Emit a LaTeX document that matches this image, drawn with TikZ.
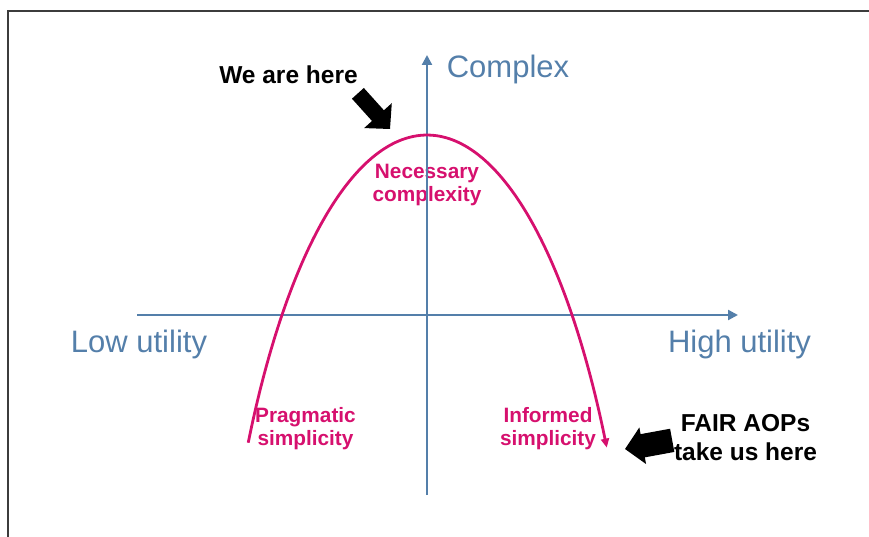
\documentclass[tikz,border=0pt]{standalone}
\usepackage{fontspec}
\setmainfont{Liberation Sans}
\usetikzlibrary{arrows.meta}
\definecolor{axisblue}{RGB}{84,127,170}
\definecolor{curvepink}{RGB}{214,16,110}
\definecolor{framegray}{RGB}{60,60,60}
\newcommand{\blockarrow}[4] {
    \fill[black,shift={(#1,#2)},rotate=#3]
        (0,0) -- (-18,18.6) -- (-18,#4) -- (-48,#4)
        -- (-48,-#4) -- (-18,-#4) -- (-18,-18.6) -- cycle;
}

\begin{document}
\begin{tikzpicture}[x=1pt,y=-1pt,
        axis/.style={draw=axisblue,line width=2.2pt,-{Triangle[length=10pt,width=10pt]}},
        axislabel/.style={text=axisblue,font=\fontsize{31}{36}\selectfont,inner sep=0pt},
        zone/.style={text=curvepink,font=\bfseries\fontsize{20.8}{23.5}\selectfont,align=center,inner sep=0pt},
        callout/.style={font=\bfseries\fontsize{24.5}{29}\selectfont,align=center,inner sep=0pt}]
    \useasboundingbox (0,0) rectangle (869,537);
    \draw[framegray,line width=1.8pt] (8,537) -- (8,11) -- (869,11);

    \node[axislabel] (complex) at (508,69) {Complex};
    \node[axislabel] (low) at (139,344) {Low utility};
    \node[axislabel] (high) at (739.5,344) {High utility};
    \node[zone] (necessary) at (427,185) {Necessary\\complexity};
    \node[zone] (pragmatic) at (305.5,428.5) {Pragmatic\\simplicity};
    \node[zone] (informed) at (548,428.5) {Informed\\simplicity};
    \node[callout] (here) at (288.5,75) {We are here};
    \node[callout] (fair) at (745.5,438) {FAIR AOPs\\take us here};

    \coordinate (xleft) at (137,315);
    \coordinate (xright) at (738,315);
    \coordinate (ybot) at (427,495);
    \coordinate (ytop) at (427,55);
    \draw[axis] (xleft) -- (xright);
    \draw[axis] (ybot) -- (ytop);

    \draw[curvepink,line width=2.8pt,-{Triangle[length=9pt,width=8pt]}]
        plot[domain=147.5:32,samples=60,smooth] ({427+212*cos(\x)},{800-665*sin(\x)});

    \blockarrow{390}{129}{-48}{8}
    \blockarrow{625}{449}{-169.6}{11.8}
\end{tikzpicture}
\end{document}
